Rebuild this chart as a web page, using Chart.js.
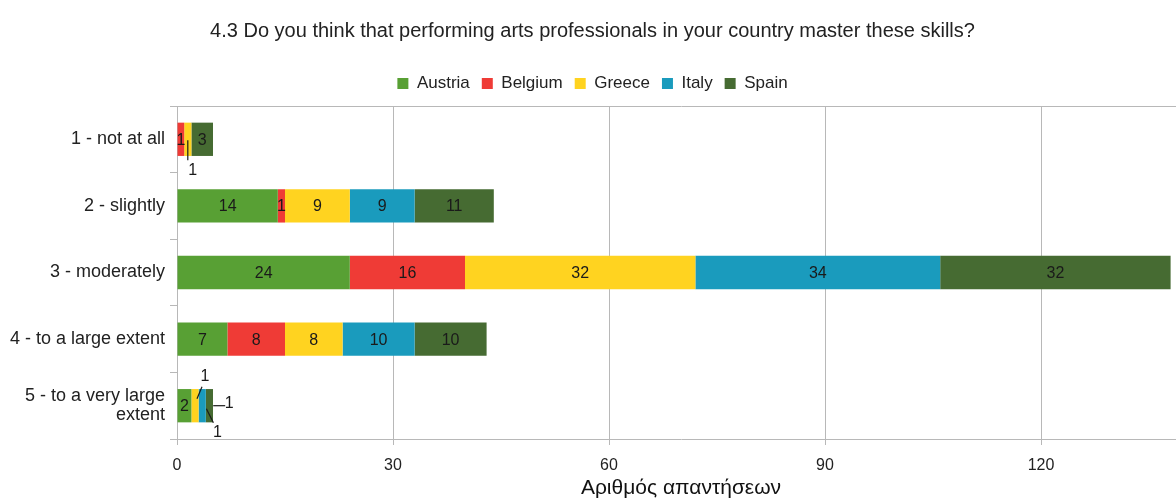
<!DOCTYPE html>
<html>
<head>
<meta charset="utf-8">
<script src="https://cdn.jsdelivr.net/npm/chart.js@4.4.1/dist/chart.umd.min.js"></script>
<style>
  body { margin: 0; overflow: hidden; background: #fff; }
  #wrap { width: 1192px; height: 500px; position: relative; }
</style>
</head>
<body>
<div id="wrap"><canvas id="myChart"></canvas></div>
<script>
// answers per country, one value per category
const categories = ["1 - not at all", "2 - slightly", "3 - moderately", "4 - to a large extent", ["5 - to a very large", "extent"]];
const countries = ["Austria", "Belgium", "Greece", "Italy", "Spain"];
const austria = [0, 14, 24, 7, 2];
const belgium = [1, 1, 16, 8, 0];
const greece = [1, 9, 32, 8, 1];
const italy = [0, 9, 34, 10, 1];
const spain = [3, 11, 32, 10, 1];
const xTicks = [0, 30, 60, 90, 120];

const colors = ['#58a034', '#ef3b36', '#ffd320', '#1a9bbd', '#466b32'];
const gridGray = '#b8b8b8';
const fontFamily = '"Liberation Sans", Arial, sans-serif';

// small segments get their label pulled out with a leader line
// key: datasetIndex-categoryIndex, [lineX0, lineY0, lineX1, lineY1, textX, textY] relative to segment centre
const callouts = {
  '2-0': [0, 1, 0, 21, 5, 31],
  '2-4': [2, -7, 7, -19, 10, -29],
  '3-4': [11, 0, 23, 0, 27, -2],
  '4-4': [-3, 3, 4, 17, 8, 27]
};

const valueLabels = {
  id: 'valueLabels',
  afterDatasetsDraw(chart) {
    const c = chart.ctx;
    c.save();
    c.font = '16px ' + fontFamily;
    c.fillStyle = '#1a1a1a';
    c.strokeStyle = '#1a1a1a';
    c.lineWidth = 1.2;
    c.textAlign = 'center';
    c.textBaseline = 'middle';
    chart.data.datasets.forEach((ds, di) => {
      const meta = chart.getDatasetMeta(di);
      meta.data.forEach((bar, i) => {
        const v = ds.data[i];
        if (!v) return;
        const cx = (bar.x + bar.base) / 2;
        const cy = bar.y;
        const co = callouts[di + '-' + i];
        if (co) {
          c.beginPath();
          c.moveTo(cx + co[0], cy + co[1]);
          c.lineTo(cx + co[2], cy + co[3]);
          c.stroke();
          c.fillText(v, cx + co[4], cy + co[5]);
        } else {
          c.fillText(v, cx, cy + 1);
        }
      });
    });
    c.restore();
  }
};

// a bit more room under the legend
const legendGap = {
  id: 'legendGap',
  beforeInit(chart) {
    const fit = chart.legend.fit;
    chart.legend.fit = function () {
      fit.bind(chart.legend)();
      this.height += 4;
    };
  }
};

const seriesData = [austria, belgium, greece, italy, spain];

const ctx = document.getElementById('myChart').getContext('2d');
const myChart = new Chart(ctx, {
  type: 'bar',
  data: {
    labels: categories,
    datasets: countries.map((name, k) => ({
      label: name,
      data: seriesData[k],
      backgroundColor: colors[k],
      borderWidth: 0,
      barPercentage: 0.5,
      categoryPercentage: 1
    }))
  },
  options: {
    indexAxis: 'y',
    responsive: true,
    maintainAspectRatio: false,
    animation: false,
    layout: { padding: { left: 0, right: 7, top: 0, bottom: 0 } },
    plugins: {
      tooltip: { enabled: false },
      title: {
        display: true,
        text: '4.3 Do you think that performing arts professionals in your country master these skills?',
        color: '#222',
        font: { family: fontFamily, size: 20, weight: 'normal' },
        padding: { top: 19, bottom: 20 }
      },
      legend: {
        display: true,
        labels: {
          boxWidth: 11,
          boxHeight: 11,
          color: '#222',
          padding: 12,
          font: { family: fontFamily, size: 17 }
        }
      }
    },
    scales: {
      x: {
        stacked: true,
        min: 0,
        max: 140,
        afterBuildTicks(scale) {
          scale.ticks = xTicks.map(v => ({ value: v }));
        },
        afterFit(scale) { scale.height = 61; },
        grid: { color: gridGray, tickLength: 6 },
        border: { color: gridGray },
        ticks: {
          color: '#222',
          padding: 11,
          font: { family: fontFamily, size: 16 }
        },
        title: {
          display: true,
          text: 'Αριθμός απαντήσεων',
          color: '#111',
          font: { family: fontFamily, size: 21, lineHeight: 1.1 },
          padding: { top: 0, bottom: 0 }
        }
      },
      y: {
        stacked: true,
        afterFit(scale) { scale.width = 177; },
        grid: {
          offset: true,
          color: c => c.index === 0 ? gridGray : 'transparent',
          tickColor: gridGray,
          tickLength: 7
        },
        border: { color: gridGray },
        ticks: {
          color: '#222',
          padding: 5,
          font: { family: fontFamily, size: 18, lineHeight: 1.05 }
        }
      }
    }
  },
  plugins: [valueLabels, legendGap]
});
</script>
</body>
</html>
